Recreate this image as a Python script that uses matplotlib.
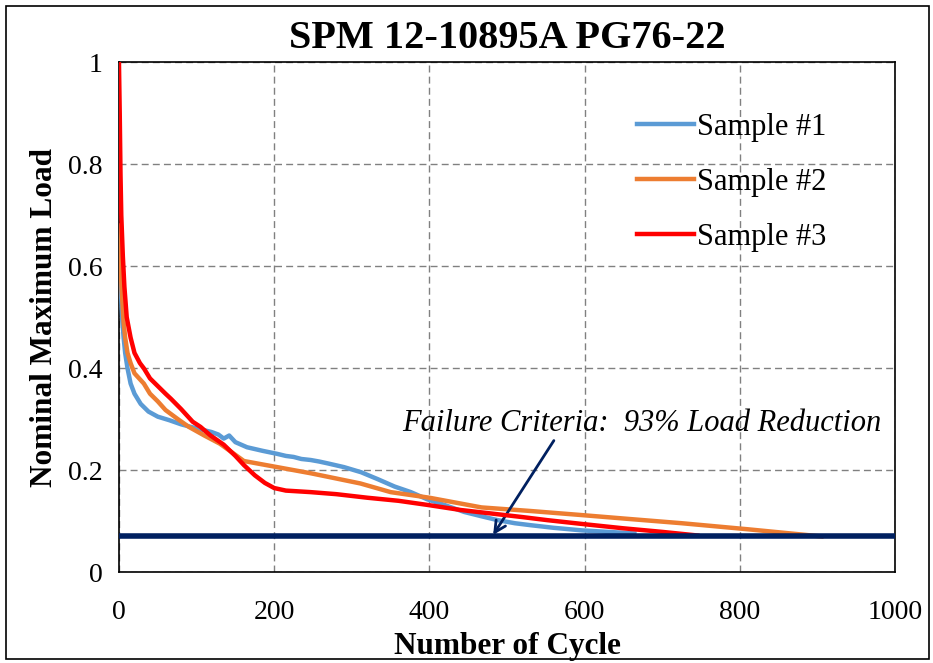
import matplotlib.pyplot as plt
from matplotlib.patches import Rectangle

# Sample #1 (blue)
s1_cycle = [0, 2, 4, 6, 8, 11, 15, 20, 28, 38, 50, 65, 80, 100, 119, 128, 135,
            142, 150, 165, 185, 204, 215, 225, 235, 247, 258, 270, 290, 312,
            334, 355, 376, 397, 419, 445, 466, 488, 510, 531, 560, 596, 630, 664]
s1_load = [0.66, 0.57, 0.50, 0.46, 0.43, 0.40, 0.37, 0.35, 0.33, 0.315, 0.305,
           0.298, 0.29, 0.282, 0.275, 0.27, 0.262, 0.268, 0.255, 0.245, 0.238,
           0.232, 0.228, 0.226, 0.222, 0.22, 0.217, 0.213, 0.206, 0.196,
           0.182, 0.168, 0.157, 0.143, 0.132, 0.118, 0.11, 0.102, 0.096,
           0.092, 0.087, 0.082, 0.079, 0.076]

# Sample #2 (orange)
s2_cycle = [0, 2, 4, 6, 8, 11, 15, 20, 26, 32, 40, 50, 60, 76, 90, 110, 130,
            161, 204, 247, 311, 350, 400, 467, 530, 596, 660, 725, 811, 892, 905]
s2_load = [0.68, 0.60, 0.54, 0.49, 0.46, 0.43, 0.41, 0.39, 0.38, 0.37, 0.35,
           0.335, 0.318, 0.30, 0.285, 0.268, 0.252, 0.218, 0.206, 0.194,
           0.174, 0.157, 0.146, 0.127, 0.12, 0.112, 0.104, 0.096, 0.084,
           0.072, 0.07]

# Sample #3 (red)
s3_cycle = [0, 1, 2, 3, 5, 7, 10, 15, 20, 27, 32, 40, 50, 60, 67, 80, 95, 105,
            118, 135, 150, 161, 175, 188, 200, 215, 247, 280, 320, 360, 397,
            440, 480, 520, 552, 600, 650, 700, 745]
s3_load = [1.0, 0.9, 0.78, 0.70, 0.62, 0.56, 0.50, 0.46, 0.43, 0.41, 0.40,
           0.38, 0.365, 0.35, 0.34, 0.32, 0.295, 0.285, 0.268, 0.25, 0.228,
           0.21, 0.19, 0.175, 0.165, 0.16, 0.157, 0.153, 0.146, 0.14, 0.132,
           0.122, 0.115, 0.108, 0.102, 0.094, 0.086, 0.079, 0.072]

failure_level = 0.07
x_ticks = [0, 200, 400, 600, 800, 1000]
y_ticks = [0, 0.2, 0.4, 0.6, 0.8, 1]
y_labels = ["0", "0.2", "0.4", "0.6", "0.8", "1"]

plt.rcParams['font.family'] = ['Liberation Serif', 'DejaVu Serif']

fig = plt.figure(figsize=(9.33, 6.63), dpi=100)
ax = fig.add_axes([0.1275, 0.137, 0.832, 0.769])

# figure frame
fig.patches.append(Rectangle((6 / 933, 4 / 663), 923 / 933, 653 / 663,
                             transform=fig.transFigure, fill=False,
                             edgecolor='black', linewidth=1.2))

ax.plot(s1_cycle, s1_load, color='#5B9BD5', lw=3.2, label='Sample #1', zorder=3)
ax.plot(s2_cycle, s2_load, color='#ED7D31', lw=3.2, label='Sample #2', zorder=3)
ax.plot(s3_cycle, s3_load, color='#FF0000', lw=3.2, label='Sample #3', zorder=4)
ax.axhline(failure_level, color='#002060', lw=4, zorder=5)

ax.set_xlim(0, 1000)
ax.set_ylim(0, 1)
ax.set_xticks(x_ticks)
ax.set_yticks(y_ticks)
ax.set_yticklabels(y_labels)
ax.tick_params(length=0, labelsize=20)
ax.tick_params(axis='x', pad=20)
ax.tick_params(axis='y', pad=12)
ax.grid(True, color='#808080', linestyle=(0, (5, 3)), linewidth=1)
ax.set_axisbelow(True)
for sp in ax.spines.values():
    sp.set_linewidth(1.2)

ax.set_title('SPM 12-10895A PG76-22', fontsize=29, fontweight='bold', pad=10)
ax.set_xlabel('Number of Cycle', fontsize=22.5, fontweight='bold', labelpad=5)
ax.set_ylabel('Nominal Maximum Load', fontsize=22.5, fontweight='bold', labelpad=6)

ax.legend(loc='upper left', bbox_to_anchor=(0.632, 0.955), frameon=False,
          fontsize=22, handlelength=1.85, handletextpad=0.1, labelspacing=0.85)

ax.annotate('Failure Criteria:  93% Load Reduction', xy=(482, 0.073),
            xytext=(365, 0.292), fontsize=22, fontstyle='italic',
            va='center', ha='left',
            arrowprops=dict(arrowstyle='->', color='#002060', lw=2,
                            mutation_scale=20, shrinkA=0, shrinkB=0,
                            relpos=(0.32, 0.0)))

fig.savefig('out.png', dpi=100)
